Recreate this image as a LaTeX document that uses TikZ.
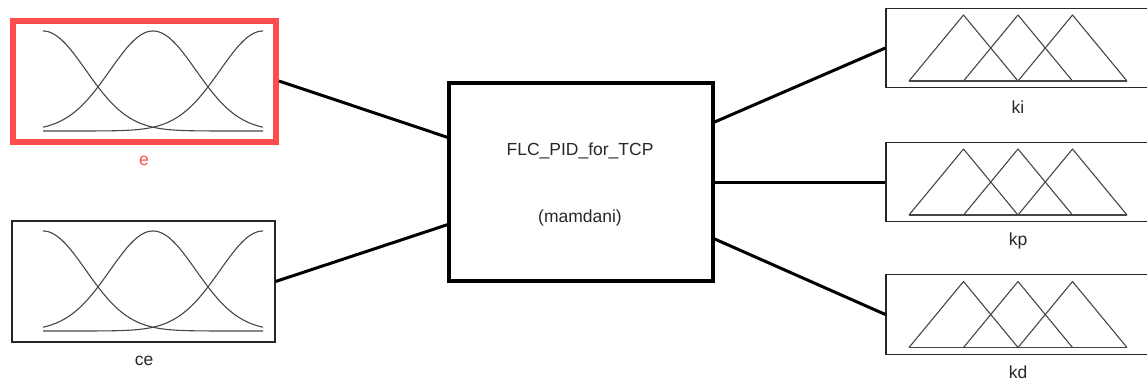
\documentclass[tikz,border=0pt]{standalone}
\usepackage{fontspec}
\setmainfont{Liberation Sans}
\usetikzlibrary{calc}
\definecolor{redbox}{RGB}{255,77,77}
\definecolor{txt}{RGB}{40,40,40}
\definecolor{mfc}{RGB}{70,70,70}
\begin{document}
\begin{tikzpicture}[x=1pt,y=-1pt,
  inbox/.style={draw=black!85, line width=1.2pt, minimum width=263pt, minimum height=121pt, inner sep=0pt, outer sep=auto},
  outbox/.style={draw=black!85, line width=1.2pt, minimum width=264pt, minimum height=79.5pt, inner sep=0pt, outer sep=auto},
  fisbox/.style={draw=black, line width=3.5pt, minimum width=264pt, minimum height=198pt, inner sep=0pt, outer sep=auto},
  lab/.style={font=\fontsize{17.5}{20}\selectfont, text=txt, anchor=base, inner sep=0pt},
  conn/.style={draw=black, line width=3pt},
  mfline/.style={draw=mfc, line width=1.1pt, line join=round}]
\useasboundingbox (0,0) rectangle (1147,383);
\clip (0,0) rectangle (1147,383);

% boxes
\node[inbox, draw=redbox, line width=6pt] (e) at (144.5,81) {};
\node[inbox] (ce) at (143.5,281.5) {};
\node[fisbox] (fis) at (581,182) {};
\node[outbox] (ki) at (1018,48) {};
\node[outbox] (kp) at (1018,182) {};
\node[outbox] (kd) at (1018,314.5) {};

% texts
\node[lab] (fisname) at (580,155) {FLC\_PID\_for\_TCP};
\node[lab] (fistype) at (580,222) {(mamdani)};
\node[lab, text=redbox] (elab) at (144,165) {e};
\node[lab] (celab) at (144,365) {ce};
\node[lab] (kilab) at (1018,113) {ki};
\node[lab] (kplab) at (1018,245) {kp};
\node[lab] (kdlab) at (1018,378) {kd};

% connectors
\draw[conn] (e.east) -- ($(fis.north west)!0.278!(fis.south west)$);
\draw[conn] (ce.east) -- ($(fis.north west)!0.712!(fis.south west)$);
\draw[conn] ($(fis.north east)!0.202!(fis.south east)$) -- (ki.west);
\draw[conn] (fis.east) -- (kp.west);
\draw[conn] ($(fis.north east)!0.783!(fis.south east)$) -- (kd.west);

% gaussian membership functions
\foreach \b in {131,331}{
  \foreach \c in {43,153,263}{
    \draw[mfline] plot[domain=43:263, samples=140, smooth] (\x,{\b-100*exp(-0.5*((\x-\c)/43)^2)});
  }
}

% triangular membership functions
\foreach \n in {ki,kp,kd}{
  \begin{scope}[shift={(\n.center)}]
    \draw[mfline] (-109,33) -- (-54.5,-33) -- (0,33);
    \draw[mfline] (-54.5,33) -- (0,-33) -- (54.5,33);
    \draw[mfline] (0,33) -- (54.5,-33) -- (109,33);
    \draw[mfline] (-109,33) -- (109,33);
  \end{scope}
}
\end{tikzpicture}
\end{document}
